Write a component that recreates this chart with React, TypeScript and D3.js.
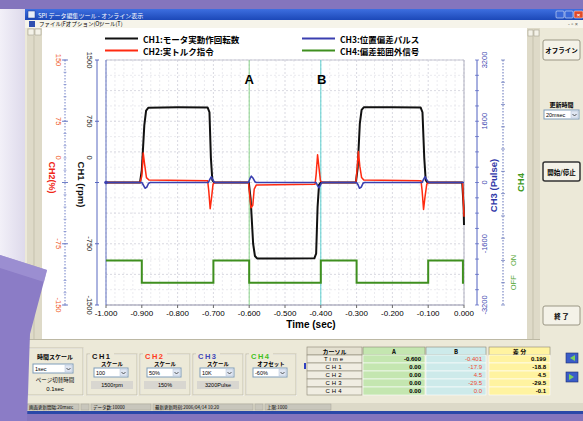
import React from 'react';
import * as d3 from 'd3';

const W = 583;
const H = 421;

// plot frame
const PL = 106;
const PR = 464;
const PT = 60;
const PB = 305;

// axis ticks
const timeTicks = [-1.0, -0.9, -0.8, -0.7, -0.6, -0.5, -0.4, -0.3, -0.2, -0.1, 0.0];
const ch1Ticks = [1500, 750, 0, -750, -1500];
const ch2Ticks = [150, 75, 0, -75, -150];
const ch3Ticks = [3200, 1600, 0, -1600, -3200];

// cursors
const cursorA = -0.6;
const cursorB = -0.4;

// CH1 motor speed (rpm)
const ch1: [number, number][] = [
  [-1.0, 0], [-0.905, 0], [-0.9, 150], [-0.893, 700], [-0.888, 880], [-0.882, 915],
  [-0.8, 920], [-0.716, 918], [-0.711, 860], [-0.707, 300], [-0.703, 30], [-0.698, 0],
  [-0.601, 0], [-0.596, -200], [-0.589, -750], [-0.584, -900], [-0.578, -930],
  [-0.5, -932], [-0.418, -928], [-0.413, -870], [-0.409, -300], [-0.405, -30], [-0.4, 0],
  [-0.302, 0], [-0.297, 180], [-0.291, 720], [-0.286, 890], [-0.28, 920],
  [-0.2, 922], [-0.121, 918], [-0.116, 860], [-0.111, 300], [-0.107, 30], [-0.102, 0],
  [-0.005, 0], [-0.001, -300], [0.0, -520],
];

// CH2 torque command (%)
const ch2: [number, number][] = [
  [-1.0, 0], [-0.905, 0], [-0.9, 8], [-0.896, 36], [-0.892, 22], [-0.887, 6], [-0.88, 3],
  [-0.716, 2], [-0.713, -10], [-0.709, -32], [-0.705, -18], [-0.701, -2], [-0.696, 0],
  [-0.602, 0], [-0.599, -14], [-0.595, -31], [-0.59, -28], [-0.586, -8], [-0.58, -3],
  [-0.416, -2], [-0.413, 10], [-0.409, 34], [-0.405, 18], [-0.401, 2], [-0.396, 0],
  [-0.302, 0], [-0.299, 15], [-0.295, 38], [-0.291, 20], [-0.286, 6], [-0.28, 3],
  [-0.12, 2], [-0.117, -10], [-0.113, -33], [-0.109, -18], [-0.104, -2], [-0.099, 0],
  [-0.004, 0], [0.0, -42],
];

// CH3 position deviation (pulse)
const ch3: [number, number][] = [
  [-1.0, 0], [-0.9, 0], [-0.896, -60], [-0.891, -150], [-0.886, -120], [-0.881, -20], [-0.876, 0],
  [-0.714, 0], [-0.71, 80], [-0.706, 150], [-0.702, 90], [-0.698, 10], [-0.695, 0],
  [-0.602, 0], [-0.598, 100], [-0.594, 165], [-0.589, 110], [-0.584, 20], [-0.58, 0],
  [-0.413, 0], [-0.409, -80], [-0.405, -140], [-0.401, -60], [-0.397, 0],
  [-0.3, 0], [-0.296, -60], [-0.292, -150], [-0.287, -120], [-0.282, -20], [-0.278, 0],
  [-0.117, 0], [-0.113, 80], [-0.109, 150], [-0.105, 90], [-0.1, 10], [-0.096, 0],
  [0.0, 0],
];

// CH4 out-of-range signal (1 = ON, 0 = OFF)
const ch4: [number, number][] = [
  [-1.0, 1], [-0.9, 0], [-0.7, 1], [-0.6, 0], [-0.4, 1], [-0.3, 0], [-0.1, 1], [-0.003, 0], [0.0, 0],
];

const legendLeft = [
  { label: 'CH1:モータ実動作回転数', color: '#111111' },
  { label: 'CH2:実トルク指令', color: '#ff2a10' },
];
const legendRight = [
  { label: 'CH3:位置偏差パルス', color: '#3a3fb0' },
  { label: 'CH4:偏差範囲外信号', color: '#3f8f1f' },
];

// cursor table
const tableRows = ['Time', 'CH1', 'CH2', 'CH3', 'CH4'];
const colA = ['-0.600', '0.00', '0.00', '0.00', '0.00'];
const colB = ['-0.401', '-17.9', '4.5', '-29.5', '0.0'];
const colDiff = ['0.199', '-18.8', '4.5', '-29.5', '-0.1'];

const JP = '"Noto Sans CJK JP", sans-serif';
const SANS = '"Liberation Sans", Arial, sans-serif';
const BEIGE = '#ece9d8';

const RText = ({ x, y, rot, size = 8, fill = '#000', weight = 400, family = SANS, children }: any) => (
  <text
    transform={`translate(${x},${y}) rotate(${rot})`}
    textAnchor="middle"
    dominantBaseline="central"
    fontSize={size}
    fill={fill}
    fontWeight={weight}
    fontFamily={family}
  >
    {children}
  </text>
);

const Button = ({ x, y, w, h, label, strong }: any) => (
  <g>
    <rect x={x} y={y} width={w} height={h} fill="#f4f2e8" stroke={strong ? '#333' : '#9a9684'} strokeWidth={strong ? 1.5 : 1} rx={2} />
    <text x={x + w / 2} y={y + h / 2} textAnchor="middle" dominantBaseline="central" fontSize={6.5} fontFamily={JP} fontWeight={700}>{label}</text>
  </g>
);

const Combo = ({ x, y, w, label }: any) => (
  <g>
    <rect x={x} y={y} width={w} height={9} fill="#fff" stroke="#7f9db9" />
    <rect x={x + w - 8} y={y + 1} width={7} height={7} fill="#dfe6f2" stroke="#b4c2d6" strokeWidth={0.5} />
    <path d={`M${x + w - 6.5},${y + 4} l2,2 l2,-2`} fill="none" stroke="#333" strokeWidth={0.8} />
    <text x={x + 2} y={y + 5} dominantBaseline="central" fontSize={5.5} fontFamily={SANS}>{label}</text>
  </g>
);

const GroupBox = ({ x, y, w, h }: any) => (
  <g>
    <rect x={x + 0.5} y={y + 0.5} width={w} height={h} fill="none" stroke="#fff" />
    <rect x={x} y={y} width={w} height={h} fill="none" stroke="#c6c2ae" />
  </g>
);

export default function App() {
  const x = d3.scaleLinear().domain([-1, 0]).range([PL, PR]);
  const y1 = d3.scaleLinear().domain([-1500, 1500]).range([PB, PT]);
  const y2 = d3.scaleLinear().domain([-150, 150]).range([PB, PT]);
  const y3 = d3.scaleLinear().domain([-3200, 3200]).range([PB, PT]);
  const y4 = d3.scaleLinear().domain([-1, 10]).range([PB, PT]);

  const line1 = d3.line<[number, number]>().x(d => x(d[0])).y(d => y1(d[1]));
  const line2 = d3.line<[number, number]>().x(d => x(d[0])).y(d => y2(d[1]));
  const line3 = d3.line<[number, number]>().x(d => x(d[0])).y(d => y3(d[1]));
  const line4 = d3.line<[number, number]>().x(d => x(d[0])).y(d => y4(d[1])).curve(d3.curveStepAfter);

  const vGrid = d3.range(-1, 0.0001, 0.025);
  const hGrid = d3.range(-1500, 1500.1, 187.5);
  const minorCh2 = d3.range(-150, 150.1, 15);
  const minorCh3 = d3.range(-3200, 3200.1, 400);

  // table layout
  const tx = [307, 363, 426, 489];
  const tw = [55, 62, 60, 61];
  const rowH = 8;
  const tTop = 347;

  return (
    <div style={{ position: 'fixed', left: 0, top: 0 }}>
      <svg width={W} height={H} style={{ display: 'block' }}>
        <defs>
          <linearGradient id="title" x1="0" x2="0" y1="0" y2="1">
            <stop offset="0" stopColor="#3d6fe0" />
            <stop offset="1" stopColor="#1c48b8" />
          </linearGradient>
          <linearGradient id="bgLeft" x1="0" x2="1" y1="0" y2="0">
            <stop offset="0" stopColor="#f2f0f8" />
            <stop offset="1" stopColor="#dcd8ea" />
          </linearGradient>
        </defs>

        {/* backdrop */}
        <rect width={W} height={H} fill="#8475bd" />
        <rect x={0} y={9} width={27} height={260} fill="url(#bgLeft)" />

        {/* window */}
        <rect x={25} y={9} width={W - 25} height={404} fill={BEIGE} />
        <rect x={25} y={9} width={W - 25} height={11} fill="url(#title)" />
        <rect x={28} y={11} width={7} height={7} fill="#e8eef8" stroke="#1a3a90" strokeWidth={0.5} />
        <text x={38} y={15} dominantBaseline="central" fontSize={6} fill="#fff" fontFamily={JP}>SPI データ編集ツール - オンライン表示</text>
        <rect x={556} y={11} width={8} height={7} fill="#3a68d8" stroke="#fff" strokeWidth={0.5} rx={1} />
        <rect x={565} y={11} width={8} height={7} fill="#3a68d8" stroke="#fff" strokeWidth={0.5} rx={1} />
        <rect x={574} y={11} width={9} height={7} fill="#e04a28" stroke="#fff" strokeWidth={0.5} rx={1} />
        <text x={578.5} y={14.8} textAnchor="middle" dominantBaseline="central" fontSize={6} fill="#fff" fontWeight={700} fontFamily={SANS}>×</text>

        {/* menu bar */}
        <rect x={25} y={20} width={W - 25} height={8} fill="#f6f4ea" />
        <rect x={29} y={21} width={6} height={6} fill="#3050b0" />
        <text x={39} y={24.2} dominantBaseline="central" fontSize={5.5} fontFamily={JP}>ファイル(F)</text>
        <text x={66} y={24.2} dominantBaseline="central" fontSize={5.5} fontFamily={JP}>オプション(O)</text>
        <text x={99} y={24.2} dominantBaseline="central" fontSize={5.5} fontFamily={JP}>ツール(T)</text>
        <text x={568} y={24.2} dominantBaseline="central" fontSize={5.5} fill="#555" fontFamily={SANS}>- ▫ ×</text>

        {/* chart canvas */}
        <rect x={42} y={28} width={485} height={311} fill="#fff" />
        <rect x={27} y={28} width={15} height={311} fill="#dedac8" />
        <line x1={34} x2={34} y1={36} y2={339} stroke="#c5c1ad" />
        <rect x={28} y={29} width={6} height={6} fill="#f4f2e8" stroke="#9a9684" strokeWidth={0.5} />
        <rect x={35} y={29} width={6} height={6} fill="#f4f2e8" stroke="#9a9684" strokeWidth={0.5} />
        <rect x={527} y={28} width={13} height={311} fill="#dedac8" />
        <rect x={528} y={30} width={5} height={6} fill="#f4f2e8" stroke="#9a9684" strokeWidth={0.5} />
        <rect x={534} y={30} width={5} height={6} fill="#f4f2e8" stroke="#9a9684" strokeWidth={0.5} />
        <line x1={533} x2={533} y1={36} y2={339} stroke="#c5c1ad" />

        {/* grid */}
        {vGrid.map((t, i) => (
          <line key={'vg' + i} x1={x(t)} x2={x(t)} y1={PT} y2={PB} stroke={i % 4 === 0 ? '#c8c8d4' : '#e2e2e8'} strokeDasharray="2,2" strokeWidth={0.7} />
        ))}
        {hGrid.map((v, i) => (
          <line key={'hg' + i} x1={PL} x2={PR} y1={y1(v)} y2={y1(v)} stroke={i % 2 === 0 ? '#c8c8d4' : '#e2e2e8'} strokeDasharray="2,2" strokeWidth={0.7} />
        ))}
        <line x1={PL} x2={PR} y1={PT} y2={PT} stroke="#c8c8d4" />
        <line x1={PL} x2={PR} y1={PB} y2={PB} stroke="#9090a8" />
        <line x1={PR} x2={PR} y1={PT} y2={PB} stroke="#b0b0c0" />
        <line x1={PL} x2={PL} y1={PT} y2={PB} stroke="#6070c0" />

        {/* cursors */}
        <line x1={x(cursorA)} x2={x(cursorA)} y1={PT} y2={PB} stroke="#8cd48c" strokeWidth={1} />
        <line x1={x(cursorB)} x2={x(cursorB)} y1={PT} y2={PB} stroke="#5ccfcf" strokeWidth={1} />
        <text x={x(cursorA)} y={79} textAnchor="middle" dominantBaseline="central" fontSize={13} fontWeight={700} fontFamily={SANS}>A</text>
        <text x={x(cursorB) + 1} y={79} textAnchor="middle" dominantBaseline="central" fontSize={13} fontWeight={700} fontFamily={SANS}>B</text>

        {/* series */}
        <path d={line4(ch4) || ''} fill="none" stroke="#3f8f1f" strokeWidth={2} />
        <path d={line1(ch1) || ''} fill="none" stroke="#111" strokeWidth={2} strokeLinejoin="round" />
        <path d={line2(ch2) || ''} fill="none" stroke="#ff2a10" strokeWidth={1.5} strokeLinejoin="round" />
        <path d={line3(ch3) || ''} fill="none" stroke="#3a3fb0" strokeWidth={1.6} strokeLinejoin="round" />
        <circle cx={x(-1)} cy={y3(0)} r={1.8} fill="#3a3fb0" />

        {/* x axis */}
        {timeTicks.map(t => (
          <g key={'xt' + t}>
            <line x1={x(t)} x2={x(t)} y1={PB} y2={PB + 3} stroke="#666" />
            <text x={x(t)} y={313} textAnchor="middle" dominantBaseline="central" fontSize={8} fontFamily={SANS}>{t.toFixed(3)}</text>
          </g>
        ))}
        <text x={x(-0.5) + 26} y={324} textAnchor="middle" dominantBaseline="central" fontSize={10} fontWeight={700} fontFamily={SANS}>Time (sec)</text>

        {/* CH2 axis (left, outer) */}
        <line x1={65} x2={65} y1={PT} y2={PB} stroke="#7080c8" strokeDasharray="1.5,1.5" />
        {minorCh2.map(v => (
          <line key={'m2' + v} x1={63.5} x2={66.5} y1={y2(v)} y2={y2(v)} stroke="#7080c8" strokeWidth={0.6} />
        ))}
        {ch2Ticks.map(v => (
          <g key={'c2' + v}>
            <line x1={62} x2={68} y1={y2(v)} y2={y2(v)} stroke="#7080c8" />
            <RText x={58} y={v === 0 ? y2(v) - 25 : y2(v)} rot={90} size={7.5} fill="#f05a2a">{v}</RText>
          </g>
        ))}
        <RText x={52} y={y2(0) - 5} rot={90} size={9} fill="#f02818" weight={700}>CH2(%)</RText>

        {/* CH1 axis (left, inner) */}
        <line x1={97} x2={97} y1={PT} y2={PB} stroke="#5868c0" />
        {ch1Ticks.map(v => (
          <g key={'c1' + v}>
            <line x1={95} x2={99} y1={y1(v)} y2={y1(v)} stroke="#5868c0" />
            <RText x={89} y={v === 0 ? y1(v) - 25 : y1(v)} rot={90} size={7.5} fill="#222">{v}</RText>
          </g>
        ))}
        <RText x={81} y={y1(0) + 2} rot={90} size={9.5} fill="#111" weight={700}>CH1 (rpm)</RText>

        {/* CH3 axis (right, inner) */}
        <line x1={477} x2={477} y1={PT} y2={PB} stroke="#5060c0" />
        {minorCh3.map(v => (
          <line key={'m3' + v} x1={475} x2={479} y1={y3(v)} y2={y3(v)} stroke="#5060c0" strokeWidth={0.7} />
        ))}
        {ch3Ticks.map(v => (
          <RText key={'c3' + v} x={484} y={y3(v)} rot={-90} size={7.5} fill="#4048b0">{v}</RText>
        ))}
        <RText x={493} y={y3(0) + 3} rot={-90} size={9.5} fill="#3038a8" weight={700}>CH3 (Pulse)</RText>

        {/* CH4 axis (right, outer) */}
        <line x1={503} x2={503} y1={PT} y2={PB} stroke="#6070b8" strokeDasharray="1.5,1.5" />
        {d3.range(-1, 10.1, 1).map(v => (
          <line key={'m4' + v} x1={501} x2={505} y1={y4(v)} y2={y4(v)} stroke="#6070b8" strokeWidth={0.7} />
        ))}
        <RText x={513} y={y4(1)} rot={-90} size={7.5} fill="#58a838">ON</RText>
        <RText x={513} y={y4(0)} rot={-90} size={7.5} fill="#58a838">OFF</RText>
        <RText x={520} y={y3(0)} rot={-90} size={9.5} fill="#3f9a1f" weight={700}>CH4</RText>

        {/* legend */}
        {legendLeft.map((d, i) => (
          <g key={d.label}>
            <line x1={105} x2={138} y1={38.5 + i * 12} y2={38.5 + i * 12} stroke={d.color} strokeWidth={2} />
            <text x={143} y={38.5 + i * 12} dominantBaseline="central" fontSize={8.5} fontWeight={700} fontFamily={JP}>{d.label}</text>
          </g>
        ))}
        {legendRight.map((d, i) => (
          <g key={d.label}>
            <line x1={302} x2={335} y1={38.5 + i * 12} y2={38.5 + i * 12} stroke={d.color} strokeWidth={2} />
            <text x={340} y={38.5 + i * 12} dominantBaseline="central" fontSize={8.5} fontWeight={700} fontFamily={JP}>{d.label}</text>
          </g>
        ))}

        {/* right panel */}
        <Button x={543} y={40} w={37} h={20} label="オフライン" />
        <text x={561.5} y={104} textAnchor="middle" dominantBaseline="central" fontSize={6} fontWeight={700} fontFamily={JP}>更新時間</text>
        <Combo x={544} y={110} w={35} label="20msec" />
        <Button x={543} y={162} w={37} h={19} label="開始/停止" strong />
        <Button x={543} y={306} w={37} h={19} label="終 了" />

        {/* bottom panel */}
        <line x1={25} x2={540} y1={339.5} y2={339.5} stroke="#bcb8a4" />
        <GroupBox x={28} y={348} w={55} h={47} />
        <text x={55} y={356} textAnchor="middle" dominantBaseline="central" fontSize={6} fontWeight={700} fontFamily={JP}>時間スケール</text>
        <Combo x={33} y={364} w={40} label="1sec" />
        <text x={55} y={380} textAnchor="middle" dominantBaseline="central" fontSize={5.5} fontFamily={JP}>ページ切替時間</text>
        <text x={55} y={389} textAnchor="middle" dominantBaseline="central" fontSize={6} fontFamily={SANS}>0.1sec</text>

        {[
          { x: 87, ch: 'CH1', color: '#111', sub: 'スケール', val: '100', unit: '1500rpm' },
          { x: 140, ch: 'CH2', color: '#ff3a20', sub: 'スケール', val: '50%', unit: '150%' },
          { x: 193, ch: 'CH3', color: '#4048b8', sub: 'スケール', val: '10K', unit: '3200Pulse' },
          { x: 246, ch: 'CH4', color: '#40c020', sub: 'オフセット', val: '-60%', unit: '' },
        ].map(b => (
          <g key={b.ch}>
            <GroupBox x={b.x} y={354} w={50} h={41} />
            <rect x={b.x + 3} y={351} width={24} height={7} fill={BEIGE} />
            <text x={b.x + 5} y={356} dominantBaseline="central" fontSize={7.5} fontWeight={700} letterSpacing={1.5} fill={b.color} fontFamily={SANS}>{b.ch}</text>
            <text x={b.x + 25} y={364} textAnchor="middle" dominantBaseline="central" fontSize={5.5} fontWeight={700} fontFamily={JP}>{b.sub}</text>
            <Combo x={b.x + 7} y={368} w={34} label={b.val} />
            {b.unit && (
              <g>
                <rect x={b.x + 4} y={381} width={42} height={8} fill="#d8d6d0" />
                <text x={b.x + 25} y={385.2} textAnchor="middle" dominantBaseline="central" fontSize={5.5} fontFamily={SANS}>{b.unit}</text>
              </g>
            )}
          </g>
        ))}

        {/* cursor table */}
        {[
          { label: 'カーソル', fill: '#e4e0d0' },
          { label: 'A', fill: '#c4e6b0' },
          { label: 'B', fill: '#cdeaea' },
          { label: '差 分', fill: '#fff3a0' },
        ].map((c, i) => (
          <g key={c.label}>
            <rect x={tx[i]} y={tTop} width={tw[i]} height={rowH} fill={c.fill} stroke="#8a8674" strokeWidth={0.6} />
            <text x={tx[i] + tw[i] / 2} y={tTop + 4.2} textAnchor="middle" dominantBaseline="central" fontSize={6} fontWeight={700} fontFamily={JP}>{c.label}</text>
          </g>
        ))}
        {tableRows.map((r, j) => {
          const ry = tTop + rowH * (j + 1);
          return (
            <g key={r}>
              <rect x={tx[0]} y={ry} width={tw[0]} height={rowH} fill="#f0ede2" stroke="#8a8674" strokeWidth={0.6} />
              <text x={tx[0] + tw[0] / 2} y={ry + 4.2} textAnchor="middle" dominantBaseline="central" fontSize={6} letterSpacing={2} fontFamily={SANS}>{r}</text>
              <rect x={tx[1]} y={ry} width={tw[1]} height={rowH} fill="#c4e6b0" stroke="#fff" strokeWidth={0.6} />
              <text x={tx[1] + tw[1] - 4} y={ry + 4.2} textAnchor="end" dominantBaseline="central" fontSize={6} fontWeight={700} fontFamily={SANS}>{colA[j]}</text>
              <rect x={tx[2]} y={ry} width={tw[2]} height={rowH} fill="#cdeaea" stroke="#fff" strokeWidth={0.6} />
              <text x={tx[2] + tw[2] - 4} y={ry + 4.2} textAnchor="end" dominantBaseline="central" fontSize={6} fill="#f04a30" fontFamily={SANS}>{colB[j]}</text>
              <rect x={tx[3]} y={ry} width={tw[3]} height={rowH} fill="#fff3a0" stroke="#fff" strokeWidth={0.6} />
              <text x={tx[3] + tw[3] - 4} y={ry + 4.2} textAnchor="end" dominantBaseline="central" fontSize={6} fontWeight={700} fontFamily={SANS}>{colDiff[j]}</text>
            </g>
          );
        })}
        <rect x={304} y={363} width={2} height={6} fill="#3040c0" />
        {[353, 372].map((yy, i) => (
          <g key={'nav' + i}>
            <rect x={566} y={yy} width={12} height={10} fill="#3a5cc8" stroke="#203070" strokeWidth={0.6} />
            <path d={i === 0 ? `M575,${yy + 2} l-5,3 l5,3 z` : `M569,${yy + 2} l5,3 l-5,3 z`} fill="#7cd05a" />
          </g>
        ))}

        {/* status bar */}
        <rect x={25} y={403} width={W - 25} height={8} fill="#dcd9c8" />
        {[
          { x: 27, w: 52, t: '画面更新間隔:20msec' },
          { x: 81, w: 8, t: '' },
          { x: 91, w: 60, t: 'データ数:10000' },
          { x: 153, w: 100, t: '最新更新時刻:2006/04/14 10:20' },
          { x: 255, w: 8, t: '' },
          { x: 265, w: 66, t: '上限:1000' },
        ].map((s, i) => (
          <g key={'sb' + i}>
            <rect x={s.x} y={404} width={s.w} height={6} fill="#c8c6bc" stroke="#a8a698" strokeWidth={0.5} />
            <text x={s.x + 2} y={407.2} dominantBaseline="central" fontSize={4.5} fontFamily={JP}>{s.t}</text>
          </g>
        ))}
        <rect x={25} y={411} width={W - 25} height={3} fill="#2a48a8" />

        {/* purple arrow decoration */}
        <polygon points="0,255 47,270 30,334 27,421 0,421" fill="#8b7cc6" />
        <polygon points="0,255 47,270 44,282 0,268" fill="#a296d6" opacity={0.7} />
      </svg>
    </div>
  );
}
